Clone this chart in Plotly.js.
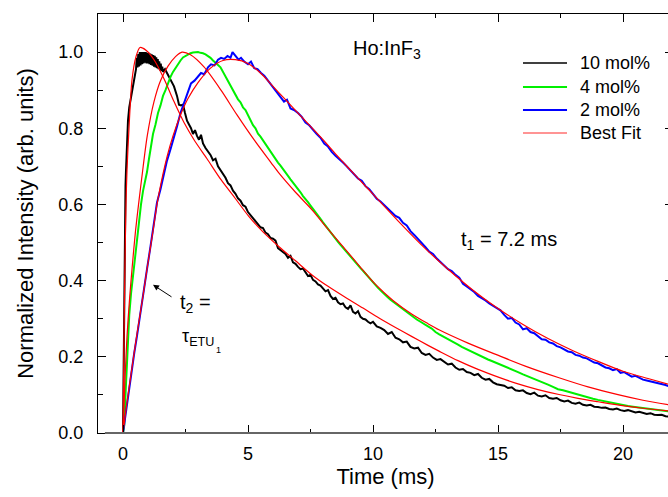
<!DOCTYPE html>
<html>
<head>
<meta charset="utf-8">
<script src="https://cdn.plot.ly/plotly-3.0.1.min.js"></script>
<style>
html,body{margin:0;padding:0;overflow:hidden;background:#fff;}
#chart{width:700px;height:497px;}
</style>
</head>
<body>
<div id="chart"></div>
<script>
// ---- 10 mol% (black) ----
var t10 = [0,0.02,0.04,0.06,0.08,0.1,0.12,0.16,0.2,0.25,0.3,0.36,0.42,0.48,
0.52,0.55,0.58,0.61,0.64,0.67,0.70,0.73,0.76,0.79,0.82,0.85,0.88,0.91,0.94,0.97,1.0,1.03,1.06,1.09,1.12,1.15,1.18,1.21,1.24,1.27,1.30,1.33,1.36,1.39,1.42,1.45,1.48,1.51,1.54,1.57,1.6,
1.68,1.8,1.92,2.04,2.16,2.24,2.32,2.4,2.48,2.56,2.64,2.72,2.8,2.88,2.96,3.04,3.12,3.2,3.3,3.4,3.5,3.6,3.7,3.8,3.9,4.0,4.1,4.2,4.3,4.4,4.5,4.6,4.7,4.8,4.9,5.0,5.1,5.2,5.3,5.4,5.5,5.6,5.7,5.8,5.9,6.0,6.1,6.2,6.3,6.4,6.5,6.6,6.7,6.8,6.9,7.0,7.1,7.2,7.3,7.4,7.5,7.6,7.7,7.8,7.9,8.0,8.1,8.2,8.3,8.4,8.5,8.6,8.7,8.8,8.9,9.0,9.1,9.2,9.3,9.4,9.5,9.6,9.7,9.8,9.9,10.0,
10.15,10.3,10.45,10.6,10.75,10.9,11.05,11.2,11.35,11.5,11.65,11.8,11.95,12.1,12.25,12.4,12.55,12.7,12.85,13.0,13.15,13.3,13.45,13.6,13.75,13.9,14.05,14.2,14.35,14.5,14.65,14.8,14.95,15.1,15.25,15.4,15.55,15.7,15.85,16.0,16.15,16.3,16.45,16.6,16.75,16.9,17.05,17.2,17.35,17.5,17.65,17.8,17.95,18.1,18.25,18.4,18.55,18.7,18.85,19.0,19.15,19.3,19.45,19.6,19.75,19.9,20.05,20.2,20.35,20.5,20.65,20.8,20.95,21.1,21.25,21.4,21.55,21.7,21.85,22.0];
var y10 = [0,0.15,0.35,0.5,0.6,0.65,0.69,0.78,0.82,0.855,0.875,0.9,0.925,0.94,
0.955,0.985,0.96,0.995,0.962,1.0,0.965,1.0,0.968,1.0,0.97,1.0,0.972,1.0,0.97,0.998,0.97,0.998,0.968,0.996,0.966,0.994,0.964,0.992,0.962,0.99,0.96,0.986,0.958,0.982,0.955,0.976,0.952,0.97,0.95,0.962,0.948,
0.955,0.94,0.925,0.91,0.885,0.862,0.86,0.862,0.84,0.82,0.81,0.8,0.785,0.795,0.78,0.77,0.783,0.76,0.748,0.74,0.73,0.716,0.72,0.7,0.69,0.682,0.67,0.656,0.65,0.636,0.628,0.616,0.61,0.598,0.594,0.58,0.572,0.566,0.555,0.55,0.54,0.538,0.526,0.522,0.512,0.51,0.505,0.485,0.48,0.475,0.47,0.46,0.465,0.448,0.444,0.436,0.43,0.432,0.42,0.412,0.415,0.402,0.398,0.39,0.387,0.378,0.372,0.375,0.36,0.352,0.355,0.343,0.338,0.34,0.33,0.326,0.335,0.318,0.314,0.32,0.305,0.3,0.298,0.292,0.288,0.292,
0.28,0.276,0.27,0.26,0.265,0.25,0.246,0.238,0.24,0.226,0.222,0.224,0.21,0.205,0.208,0.198,0.192,0.194,0.186,0.18,0.182,0.172,0.166,0.168,0.16,0.158,0.152,0.155,0.145,0.14,0.142,0.133,0.128,0.125,0.124,0.118,0.12,0.112,0.11,0.112,0.105,0.102,0.106,0.098,0.096,0.099,0.092,0.09,0.092,0.086,0.083,0.085,0.079,0.077,0.08,0.074,0.072,0.074,0.069,0.068,0.066,0.067,0.063,0.062,0.064,0.06,0.058,0.06,0.056,0.054,0.056,0.052,0.05,0.052,0.048,0.047,0.048,0.044,0.043,0.042];

// ---- 4 mol% (green) ----
var t4 = [0,0.05,0.1,0.15,0.2,0.25,0.32,0.4,0.48,0.56,0.64,0.72,0.8,0.88,0.96,1.04,1.12,1.2,1.3,1.4,1.5,1.6,1.7,1.8,1.9,2.0,2.1,2.2,2.3,2.4,2.5,2.6,2.7,2.8,2.9,3.0,3.1,3.2,3.3,3.4,3.5,3.6,3.7,3.8,3.9,4.0,4.1,4.2,4.3,4.4,4.5,4.6,4.7,4.8,4.9,5.0,5.1,5.2,5.3,5.4,5.5,5.6,5.7,5.8,5.9,6.0,6.1,6.2,6.3,6.4,6.5,6.6,6.7,6.8,6.9,7.0,7.1,7.2,7.3,7.4,7.5,7.6,7.7,7.8,7.9,8.0,8.1,8.2,8.3,8.4,8.5,8.6,8.7,8.8,8.9,9.0,9.1,9.2,9.3,9.4,9.5,9.6,9.7,9.8,9.9,10.0,10.1,10.2,10.3,10.4,10.5,10.6,10.7,10.8,10.9,11.0,11.15,11.3,11.45,11.6,11.75,11.9,12.05,12.2,12.35,12.5,12.65,12.8,12.95,13.1,13.25,13.4,13.55,13.7,13.85,14.0,14.15,14.3,14.45,14.6,14.75,14.9,15.05,15.2,15.4,15.6,15.8,16.0,16.2,16.4,16.6,16.8,17.0,17.2,17.4,17.6,17.8,18.0,18.2,18.4,18.6,18.8,19.0,19.2,19.4,19.6,19.8,20.0,20.2,20.4,20.6,20.8,21.0,21.2,21.4,21.6,21.8,22.0];
var y4 = [0,0.02,0.1,0.18,0.25,0.31,0.365,0.415,0.46,0.51,0.555,0.6,0.635,0.66,0.685,0.72,0.75,0.785,0.81,0.84,0.86,0.885,0.9,0.92,0.935,0.948,0.958,0.97,0.978,0.986,0.99,0.994,0.997,0.999,1.0,1.0,0.998,0.997,0.994,0.99,0.985,0.978,0.973,0.966,0.96,0.948,0.938,0.925,0.91,0.9,0.89,0.876,0.868,0.855,0.848,0.835,0.82,0.808,0.8,0.786,0.778,0.768,0.758,0.75,0.738,0.728,0.72,0.71,0.702,0.694,0.683,0.675,0.666,0.658,0.648,0.64,0.632,0.622,0.615,0.606,0.597,0.589,0.58,0.571,0.562,0.553,0.545,0.536,0.527,0.519,0.51,0.502,0.494,0.486,0.478,0.47,0.463,0.455,0.447,0.44,0.433,0.426,0.418,0.41,0.402,0.395,0.388,0.381,0.375,0.368,0.362,0.356,0.35,0.345,0.341,0.336,0.328,0.32,0.312,0.305,0.298,0.292,0.285,0.28,0.274,0.265,0.259,0.254,0.248,0.243,0.237,0.232,0.226,0.221,0.216,0.211,0.206,0.202,0.197,0.193,0.189,0.185,0.181,0.178,0.172,0.166,0.16,0.154,0.149,0.144,0.138,0.132,0.127,0.121,0.115,0.112,0.108,0.104,0.101,0.098,0.094,0.09,0.087,0.084,0.081,0.078,0.075,0.073,0.071,0.069,0.067,0.065,0.063,0.062,0.06,0.059,0.057,0.056];

// ---- 2 mol% (blue) ----
var t2 = [0,0.08,0.16,0.3,0.45,0.56,0.7,0.82,0.96,1.1,1.22,1.36,1.5,1.62,1.76,1.9,2.04,2.16,2.3,2.44,2.58,2.72,2.86,3.0,3.12,3.25,3.4,3.52,3.66,3.8,3.92,4.05,4.18,4.3,4.38,4.5,4.62,4.72,4.85,5.0,5.12,5.25,5.38,5.52,5.65,5.8,5.92,6.04,6.16,6.3,6.44,6.56,6.7,6.84,7.0,7.15,7.3,7.45,7.6,7.75,7.9,8.05,8.2,8.35,8.5,8.65,8.8,8.95,9.1,9.25,9.4,9.55,9.7,9.85,10.0,10.15,10.3,10.45,10.6,10.75,10.9,11.05,11.2,11.35,11.5,11.65,11.8,11.95,12.1,12.25,12.4,12.55,12.7,12.85,13.0,13.15,13.3,13.45,13.6,13.75,13.9,14.05,14.2,14.35,14.5,14.65,14.8,14.95,15.1,15.25,15.4,15.55,15.7,15.85,16.0,16.15,16.3,16.45,16.6,16.75,16.9,17.05,17.2,17.35,17.5,17.65,17.8,17.95,18.1,18.25,18.4,18.55,18.7,18.85,19.0,19.15,19.3,19.45,19.6,19.75,19.9,20.05,20.2,20.35,20.5,20.65,20.8,20.95,21.1,21.25,21.4,21.55,21.7,21.85,22.0];
var y2 = [0,0.04,0.08,0.14,0.21,0.255,0.32,0.37,0.43,0.49,0.55,0.605,0.64,0.675,0.715,0.745,0.775,0.805,0.84,0.867,0.89,0.918,0.925,0.935,0.945,0.942,0.96,0.968,0.965,0.98,0.985,0.982,0.99,0.985,1.0,0.99,0.98,0.985,0.975,0.968,0.975,0.958,0.955,0.945,0.938,0.925,0.915,0.905,0.892,0.882,0.87,0.875,0.852,0.848,0.84,0.83,0.815,0.808,0.795,0.785,0.775,0.76,0.752,0.738,0.728,0.72,0.71,0.7,0.69,0.678,0.668,0.662,0.648,0.64,0.628,0.615,0.608,0.598,0.59,0.578,0.57,0.565,0.552,0.545,0.53,0.52,0.51,0.5,0.488,0.476,0.47,0.458,0.448,0.44,0.43,0.425,0.415,0.408,0.392,0.385,0.378,0.37,0.36,0.355,0.348,0.34,0.334,0.328,0.322,0.31,0.3,0.302,0.29,0.285,0.272,0.275,0.265,0.262,0.255,0.246,0.245,0.238,0.235,0.228,0.225,0.22,0.214,0.212,0.205,0.203,0.198,0.196,0.19,0.185,0.183,0.178,0.172,0.17,0.165,0.168,0.158,0.16,0.155,0.148,0.15,0.145,0.14,0.138,0.136,0.133,0.13,0.128,0.126,0.122,0.12];

// ---- Best fits (red) ----
var tFit10 = [0,0.04,0.08,0.12,0.16,0.24,0.36,0.52,0.68,0.92,1.24,1.64,2.04,2.44,2.84,3.36,3.92,4.5,5.04,5.6,6.24,6.9,7.56,8.2,8.92,9.6,10.24,10.9,11.56,12.2,12.64,13.4,14.2,15.04,15.8,16.6,17.44,18.2,19.0,19.84,20.8,22.0];
var yFit10 = [0,0.25,0.45,0.6,0.69,0.80,0.927,0.988,1.012,1.005,0.98,0.93,0.87,0.815,0.77,0.72,0.665,0.615,0.568,0.528,0.489,0.452,0.415,0.385,0.355,0.328,0.302,0.277,0.253,0.23,0.215,0.19,0.167,0.146,0.129,0.114,0.101,0.091,0.082,0.073,0.065,0.057];
var tFit4 = [0,0.08,0.16,0.26,0.36,0.5,0.64,0.77,0.97,1.24,1.5,1.8,2.1,2.36,2.7,3.24,3.92,4.56,5.24,5.92,6.24,6.9,7.56,8.2,8.92,9.5,10.1,10.8,11.56,12.2,12.64,13.8,15.04,16.2,17.44,18.6,19.84,20.8,22.0];
var yFit4 = [0,0.14,0.253,0.35,0.43,0.53,0.61,0.68,0.78,0.87,0.925,0.963,0.988,1.0,0.993,0.961,0.9,0.835,0.77,0.71,0.682,0.632,0.586,0.535,0.48,0.435,0.39,0.348,0.312,0.287,0.271,0.236,0.203,0.173,0.145,0.121,0.1,0.086,0.072];
var tFit2 = [0,0.16,0.4,0.56,0.8,0.96,1.2,1.36,1.6,1.76,2.0,2.3,2.6,3.0,3.5,4.0,4.5,5.0,5.5,6.0,6.5,7.0,7.5,8.0,8.5,9.0,9.5,10.0,11.0,12.0,13.0,14.0,15.0,16.0,17.0,18.0,19.0,20.0,21.0,22.0];
var yFit2 = [0,0.08,0.19,0.26,0.36,0.43,0.53,0.6,0.68,0.725,0.78,0.835,0.878,0.92,0.958,0.978,0.98,0.97,0.945,0.91,0.875,0.84,0.805,0.77,0.733,0.697,0.662,0.627,0.557,0.49,0.43,0.375,0.327,0.285,0.248,0.216,0.188,0.162,0.143,0.125];

var seriesNames = ['10 mol%','4 mol%','2 mol%','Best Fit'];
var seriesColors = ['#000000','#00f000','#0000ff','#ff0000'];
var xTicks = [0,5,10,15,20];
var yTicks = [0,0.2,0.4,0.6,0.8,1.0];

var FONT = 'Liberation Sans, Arial, sans-serif';

var traces = [
  {x:t10, y:y10, mode:'lines', name:seriesNames[0], line:{color:seriesColors[0], width:2}},
  {x:t4, y:y4, mode:'lines', name:seriesNames[1], line:{color:seriesColors[1], width:2}},
  {x:t2, y:y2, mode:'lines', name:seriesNames[2], line:{color:seriesColors[2], width:2}},
  {x:tFit10, y:yFit10, mode:'lines', name:seriesNames[3], line:{color:seriesColors[3], width:1.2, shape:'spline', smoothing:0.8}},
  {x:tFit4, y:yFit4, mode:'lines', name:seriesNames[3], line:{color:seriesColors[3], width:1.2, shape:'spline', smoothing:0.8}},
  {x:tFit2, y:yFit2, mode:'lines', name:seriesNames[3], line:{color:seriesColors[3], width:1.2, shape:'spline', smoothing:0.8}}
];

// legend drawn as line shapes + text (positions in paper units)
var legX0 = 0.7391, legX1 = 0.8157, legTextX = 0.8348;
var legY = [0.8831, 0.8258, 0.7709, 0.716];
var legWidths = [1.5, 2, 2, 1.5];
var legColors = ['#000000','#00f000','#0000ff','#ff7070'];

var shapes = [
  {type:'line', xref:'paper', yref:'paper', x0:0.012, x1:1, y0:0, y1:0, line:{color:'#666666', width:2}}
];
var annotations = [
  {x:9.1, y:1.006, xref:'x', yref:'y', xanchor:'left', yanchor:'middle', showarrow:false,
   text:'Ho:InF<sub>3</sub>', font:{family:FONT, size:20, color:'#000'}},
  {x:13.44, y:0.505, xref:'x', yref:'y', xanchor:'left', yanchor:'middle', showarrow:false,
   text:'t<sub>1</sub> = 7.2 ms', font:{family:FONT, size:20, color:'#000'}},
  {x:2.2, y:0.34, xref:'x', yref:'y', xanchor:'left', yanchor:'middle', showarrow:false,
   text:'t<sub>2</sub> =', font:{family:FONT, size:20, color:'#000'}},
  {x:2.28, y:0.25, xref:'x', yref:'y', xanchor:'left', yanchor:'middle', showarrow:false,
   text:'τ<sub>ETU</sub>', font:{family:FONT, size:18, color:'#000'}},
  {x:3.62, y:0.218, xref:'x', yref:'y', xanchor:'left', yanchor:'middle', showarrow:false,
   text:'1', font:{family:FONT, size:9, color:'#000'}},
  {x:1.2, y:0.389, xref:'x', yref:'y', ax:20, ay:13, showarrow:true, text:'',
   arrowhead:2, arrowsize:1.2, arrowwidth:1, arrowcolor:'#000'}
];
for (var i = 0; i < seriesNames.length; i++) {
  shapes.push({type:'line', xref:'paper', yref:'paper', x0:legX0, x1:legX1, y0:legY[i], y1:legY[i],
               line:{color:legColors[i], width:legWidths[i]}});
  annotations.push({x:legTextX, y:legY[i], xref:'paper', yref:'paper', xanchor:'left', yanchor:'middle',
               showarrow:false, text:seriesNames[i], font:{family:FONT, size:18, color:'#000'}});
}

var layout = {
  width:700, height:497,
  margin:{l:98, r:27, t:14, b:64, pad:0},
  paper_bgcolor:'#ffffff', plot_bgcolor:'#ffffff',
  font:{family:FONT, color:'#000', size:18},
  showlegend:false,
  xaxis:{range:[-1,22], tickvals:xTicks, ticks:'inside', ticklen:8, tickwidth:1, tickcolor:'#000',
         showline:true, linecolor:'#000', linewidth:1, mirror:'ticks', showgrid:false, zeroline:false,
         minor:{dtick:2.5, tick0:0, ticks:'inside', ticklen:4, tickcolor:'#000', showgrid:false},
         ticklabelstandoff:4,
         tickfont:{family:FONT, size:18, color:'#000'},
         title:{text:'Time (ms)', font:{family:FONT, size:22, color:'#000'}, standoff:5}},
  yaxis:{range:[0,1.1], tickvals:yTicks, tickformat:'.1f', ticks:'inside', ticklen:8, tickwidth:1, tickcolor:'#000',
         showline:true, linecolor:'#000', linewidth:1, mirror:'ticks', showgrid:false, zeroline:false,
         minor:{dtick:0.1, tick0:0, ticks:'inside', ticklen:5, tickcolor:'#000', showgrid:false},
         ticklabelstandoff:10,
         tickfont:{family:FONT, size:18, color:'#000'},
         title:{text:'Normalized Intensity (arb. units)', font:{family:FONT, size:22, color:'#000'}, standoff:18}},
  shapes:shapes,
  annotations:annotations
};

Plotly.newPlot('chart', traces, layout, {displayModeBar:false, staticPlot:true});
</script>
</body>
</html>
